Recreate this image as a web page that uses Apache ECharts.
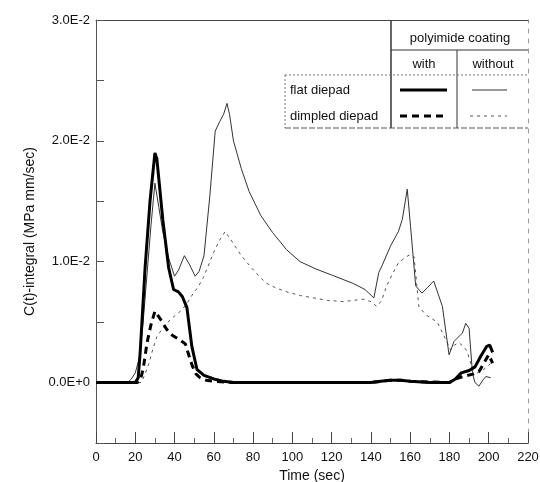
<!DOCTYPE html>
<html>
<head>
<meta charset="utf-8">
<script src="https://cdn.jsdelivr.net/npm/echarts@6/dist/echarts.min.js"></script>
<style>
html,body{margin:0;padding:0;background:#fff;}
#chart{width:540px;height:482px;}
</style>
</head>
<body>
<div id="chart"></div>
<script>
// flat diepad, with coating (thick solid)
var flatWithT = [0, 20, 21.5, 22.5, 25, 27.5, 30, 31, 34, 37, 39.5, 42, 44, 46.3, 48.8, 51.4, 55, 60, 65, 70, 80, 100, 140, 145, 150, 155, 160, 170, 180, 183, 186, 190, 193, 196, 199, 200.5, 202];
var flatWithC = [0, 0, 0.0004, 0.0025, 0.0095, 0.015, 0.019, 0.0185, 0.0135, 0.0095, 0.0077, 0.0075, 0.0071, 0.0062, 0.003, 0.0011, 0.0006, 0.0003, 0.0001, 0, 0, 0, 0, 0.0001, 0.0002, 0.0002, 0.0001, 0, 0, 0.0003, 0.0008, 0.001, 0.0013, 0.0022, 0.003, 0.0031, 0.0025];
// dimpled diepad, with coating (thick dashed)
var dimpWithT = [0, 21, 22.5, 24, 26, 28, 30, 33, 36, 39, 43, 45.5, 47, 49, 51, 53, 56, 60, 70, 100, 140, 150, 155, 160, 180, 183, 187, 192, 195, 197.5, 200, 202];
var dimpWithC = [0, 0, 0.0002, 0.0011, 0.0033, 0.0048, 0.0059, 0.0052, 0.0044, 0.0039, 0.0035, 0.0032, 0.0024, 0.0014, 0.0007, 0.0004, 0.0002, 0.0001, 0, 0, 0, 0.0002, 0.0002, 0.0001, 0, 0.0003, 0.0005, 0.0007, 0.0009, 0.0016, 0.0023, 0.0016];
// flat diepad, without coating (thin solid)
var flatWoT = [0, 16, 18, 20, 22, 24, 26, 28, 30, 32, 34, 37, 40, 42, 45, 47.5, 50.5, 52.5, 55, 58, 60.7, 63, 65, 66.7, 68, 70, 74, 78, 84, 90, 97, 104, 112, 120, 131, 137, 141.5, 144, 146, 150, 154, 156, 158.5, 160.2, 162.8, 166, 169, 172, 176.4, 179.8, 182.3, 186.6, 188.3, 190, 191.7, 193, 195, 197, 198.5, 201];
var flatWoC = [0, 0, 0.0003, 0.0008, 0.002, 0.005, 0.009, 0.013, 0.0165, 0.0145, 0.0125, 0.0103, 0.0088, 0.0093, 0.0105, 0.0098, 0.0088, 0.0092, 0.0105, 0.0155, 0.0208, 0.0216, 0.0222, 0.0231, 0.0222, 0.02, 0.0177, 0.0158, 0.0138, 0.0124, 0.011, 0.01, 0.0094, 0.0089, 0.0082, 0.0077, 0.007, 0.0091, 0.0098, 0.0113, 0.0125, 0.0135, 0.016, 0.0129, 0.008, 0.0074, 0.0079, 0.0084, 0.0063, 0.0023, 0.0034, 0.0041, 0.0049, 0.0045, 0.0008, 0, -0.0003, 0.0002, 0.0005, 0.0004];
// dimpled diepad, without coating (thin dotted)
var dimpWoT = [0, 23, 25, 27, 29, 31, 34, 37.8, 40, 43.7, 46.5, 49.6, 52, 54.7, 57, 60, 63, 65.8, 70, 74, 78.6, 83, 87, 92, 97.3, 104, 111, 118, 126, 131, 136.4, 140, 143, 145.5, 148, 151, 154, 157, 160, 162, 164.4, 168, 173.8, 178, 180.6, 182.5, 184.8, 187, 189, 191.7, 194.3, 196.5, 199.3, 201];
var dimpWoC = [0, 0, 0.0007, 0.0016, 0.0028, 0.0038, 0.0045, 0.0052, 0.0055, 0.006, 0.0066, 0.0074, 0.0079, 0.0087, 0.0096, 0.0108, 0.0118, 0.0125, 0.0115, 0.0105, 0.0096, 0.0088, 0.0082, 0.0078, 0.0075, 0.0072, 0.007, 0.0068, 0.0067, 0.0068, 0.0069, 0.0067, 0.0063, 0.0068, 0.008, 0.009, 0.0099, 0.0103, 0.0106, 0.0104, 0.0063, 0.0056, 0.005, 0.0036, 0.0027, 0.0031, 0.0033, 0.003, 0.0026, 0.0011, 0.0008, 0.001, 0.0013, 0.0016];

var xTicks = [0, 20, 40, 60, 80, 100, 120, 140, 160, 180, 200, 220];

function pairs(t, v) {
    return t.map(function (x, i) { return [x, v[i]]; });
}

var font = '"Liberation Sans", Arial, sans-serif';

var chart = echarts.init(document.getElementById('chart'));
var option = {
    animation: false,
    backgroundColor: '#fff',
    textStyle: {fontFamily: font},
    grid: {left: 96, right: 12, top: 20, bottom: 39, outerBoundsMode: 'none', containLabel: false},
    xAxis: [{
        type: 'value',
        min: xTicks[0],
        max: xTicks[xTicks.length - 1],
        interval: 20,
        name: 'Time (sec)',
        nameLocation: 'middle',
        nameGap: 24,
        nameTextStyle: {fontSize: 14, color: '#111', fontFamily: font},
        axisLine: {onZero: false, lineStyle: {color: '#444', width: 1}},
        axisTick: {inside: true, length: 11, lineStyle: {color: '#444'}},
        minorTick: {show: true, splitNumber: 2, length: 5, lineStyle: {color: '#666'}},
        axisLabel: {fontSize: 13, color: '#111', margin: 8, fontFamily: font},
        splitLine: {show: false}
    }, {
        type: 'value',
        position: 'top',
        min: 0,
        max: 220,
        interval: 20,
        axisLine: {show: true, onZero: false, lineStyle: {color: '#444'}},
        axisTick: {show: false},
        axisLabel: {show: false},
        splitLine: {show: false}
    }],
    yAxis: [{
        type: 'value',
        min: -0.005,
        max: 0.03,
        interval: 0.005,
        name: 'C(t)-integral (MPa mm/sec)',
        nameLocation: 'middle',
        nameGap: 58,
        nameTextStyle: {fontSize: 14, color: '#111', fontFamily: font},
        axisLine: {show: true, onZero: false, lineStyle: {color: '#555', width: 1}},
        axisTick: {inside: true, length: 8, lineStyle: {color: '#555'}},
        axisLabel: {
            fontSize: 13,
            color: '#111',
            margin: 6,
            fontFamily: font,
            formatter: function (v) {
                var n = Math.round(v / 0.005);
                if (n % 2 !== 0) return '';
                return (n * 0.005).toExponential(1).toUpperCase();
            }
        },
        splitLine: {show: false}
    }, {
        type: 'value',
        position: 'right',
        min: -0.005,
        max: 0.03,
        interval: 0.005,
        axisLine: {show: true, onZero: false, lineStyle: {color: '#999', type: [4, 6]}},
        axisTick: {show: false},
        axisLabel: {show: false},
        splitLine: {show: false}
    }],
    series: [{
        name: 'dimpled without',
        type: 'line',
        showSymbol: false,
        data: pairs(dimpWoT, dimpWoC),
        lineStyle: {color: '#555', width: 1, type: [3, 4]},
        z: 2
    }, {
        name: 'flat without',
        type: 'line',
        showSymbol: false,
        data: pairs(flatWoT, flatWoC),
        lineStyle: {color: '#333', width: 1},
        z: 3
    }, {
        name: 'dimpled with',
        type: 'line',
        showSymbol: false,
        data: pairs(dimpWithT, dimpWithC),
        lineStyle: {color: '#000', width: 3, type: [7, 5]},
        z: 4
    }, {
        name: 'flat with',
        type: 'line',
        showSymbol: false,
        data: pairs(flatWithT, flatWithC),
        lineStyle: {color: '#000', width: 3},
        z: 5
    }],
    // legend table
    graphic: [
        {type: 'line', shape: {x1: 391, y1: 20, x2: 391, y2: 128}, style: {stroke: '#333', lineWidth: 1.5}},
        {type: 'line', shape: {x1: 391, y1: 50, x2: 528, y2: 50}, style: {stroke: '#333', lineWidth: 1}},
        {type: 'line', shape: {x1: 457, y1: 50, x2: 457, y2: 128}, style: {stroke: '#333', lineWidth: 1}},
        {type: 'line', shape: {x1: 285, y1: 75, x2: 528, y2: 75}, style: {stroke: '#777', lineWidth: 1, lineDash: [2, 2]}},
        {type: 'line', shape: {x1: 285, y1: 75, x2: 285, y2: 128}, style: {stroke: '#777', lineWidth: 1, lineDash: [2, 2]}},
        {type: 'line', shape: {x1: 285, y1: 128, x2: 528, y2: 128}, style: {stroke: '#555', lineWidth: 1, lineDash: [6, 2]}},
        {type: 'text', x: 460, y: 38, style: {text: 'polyimide coating', fill: '#111', font: '13px ' + font, align: 'center', verticalAlign: 'middle'}},
        {type: 'text', x: 424, y: 64, style: {text: 'with', fill: '#111', font: '13px ' + font, align: 'center', verticalAlign: 'middle'}},
        {type: 'text', x: 493, y: 64, style: {text: 'without', fill: '#111', font: '13px ' + font, align: 'center', verticalAlign: 'middle'}},
        {type: 'text', x: 290, y: 90, style: {text: 'flat diepad', fill: '#111', font: '13px ' + font, align: 'left', verticalAlign: 'middle'}},
        {type: 'text', x: 290, y: 116, style: {text: 'dimpled diepad', fill: '#111', font: '13px ' + font, align: 'left', verticalAlign: 'middle'}},
        {type: 'line', shape: {x1: 400, y1: 90, x2: 447, y2: 90}, style: {stroke: '#000', lineWidth: 3}},
        {type: 'line', shape: {x1: 400, y1: 116, x2: 444, y2: 116}, style: {stroke: '#000', lineWidth: 3, lineDash: [7, 5]}},
        {type: 'line', shape: {x1: 472, y1: 90, x2: 507, y2: 90}, style: {stroke: '#333', lineWidth: 1}},
        {type: 'line', shape: {x1: 470, y1: 116, x2: 507, y2: 116}, style: {stroke: '#555', lineWidth: 1, lineDash: [3, 4]}}
    ]
};
chart.setOption(option);
</script>
</body>
</html>
